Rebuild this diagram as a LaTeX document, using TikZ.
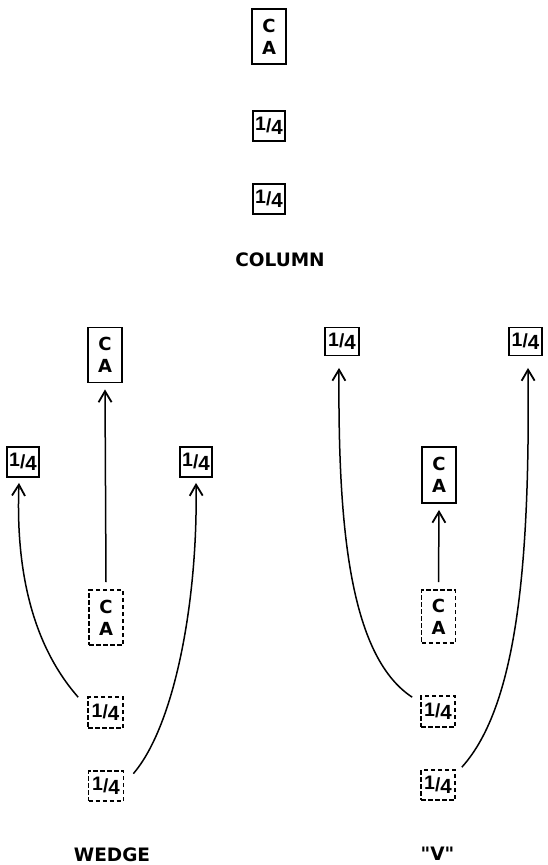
\documentclass[tikz,border=0pt]{standalone}
\usepackage{fontspec}
\setmainfont{DejaVu Sans}
\newfontfamily\qfont{DejaVu Sans}
\newfontfamily\lsfont{Liberation Sans}
\usetikzlibrary{arrows.meta}
\newcommand\myqtr{{\lsfont\bfseries\raisebox{1.5pt}{\fontsize{19.5}{19}\selectfont 1}\raisebox{0.3pt}{\fontsize{19}{19}\selectfont /}\raisebox{-2pt}{\fontsize{20.5}{21}\selectfont 4}}}
\begin{document}
\begin{tikzpicture}[x=1pt,y=-1pt,
  box/.style={draw, line width=1.9pt, inner sep=0pt, align=center,
    font=\bfseries\fontsize{18}{22}\selectfont},
  cabox/.style={box, minimum width=34pt, minimum height=55pt},
  qbox/.style={box, minimum width=32pt, minimum height=30pt},
  dbox/.style={dash pattern=on 4.5pt off 2.5pt, line width=1.7pt},
  lab/.style={font=\bfseries\fontsize{18.5}{22}\selectfont},
  arr/.style={line width=1.5pt, -{Straight Barb[length=11pt,width=13pt,line width=1.8pt]}}]
\useasboundingbox (0,0) rectangle (547,865);
% COLUMN
\node[cabox] (cCA) at (269,36.5) {C\\A};
\node[qbox] (cQ1) at (269,126) {\myqtr};
\node[qbox] (cQ2) at (269,199) {\myqtr};
\node[lab] (tcol) at (280,260) {COLUMN};
% WEDGE
\node[cabox] (wCAt) at (105,355) {C\\A};
\node[qbox] (wQL) at (23,462) {\myqtr};
\node[qbox] (wQR) at (196,462) {\myqtr};
\node[cabox,dbox] (wCAd) at (106,617.5) {C\\A};
\node[qbox,dbox,minimum width=35pt,minimum height=31pt] (wQd1) at (105.5,712.5) {\myqtr};
\node[qbox,dbox,minimum width=35pt,minimum height=30pt] (wQd2) at (106,786) {\myqtr};
\node[lab] (twedge) at (112,855) {WEDGE};
% V
\node[qbox,minimum width=34pt,minimum height=28pt] (vQL) at (342,341.5) {\myqtr};
\node[qbox,minimum width=33pt,minimum height=28pt] (vQR) at (525.5,341.5) {\myqtr};
\node[cabox,minimum height=56pt] (vCA) at (439,475) {C\\A};
\node[cabox,dbox,minimum height=53pt] (vCAd) at (438.5,616.5) {C\\A};
\node[qbox,dbox,minimum width=34pt,minimum height=31pt] (vQd1) at (438,711.5) {\myqtr};
\node[qbox,dbox,minimum width=34pt,minimum height=30pt] (vQd2) at (438,785) {\myqtr};
\node[lab] (tv) at (437.5,854) {\qfont\bfseries "V"};
% connectors wedge
\draw[arr] ([yshift=7pt]wCAd.north) -- ([yshift=-6pt]wCAt.south);
\draw[arr] ([xshift=-9pt,yshift=-1pt]wQd1.north west) .. controls (28,640) and (16,560) .. ([xshift=-4pt,yshift=-5pt]wQL.south);
\draw[arr] ([xshift=9pt,yshift=-3.5pt]wQd2.north east) .. controls (175,725) and (198,600) .. ([yshift=-5pt]wQR.south);
% connectors V
\draw[arr] ([yshift=7pt]vCAd.north) -- ([yshift=-6pt]vCA.south);
\draw[arr] ([xshift=-8pt,yshift=-2pt]vQd1.north west) .. controls (348,655) and (338,520) .. ([xshift=-3pt,yshift=-11.5pt]vQL.south);
\draw[arr] ([xshift=6pt,yshift=2pt]vQd2.north east) .. controls (518,705) and (530,560) .. ([xshift=2.5pt,yshift=-11.5pt]vQR.south);
\end{tikzpicture}
\end{document}
